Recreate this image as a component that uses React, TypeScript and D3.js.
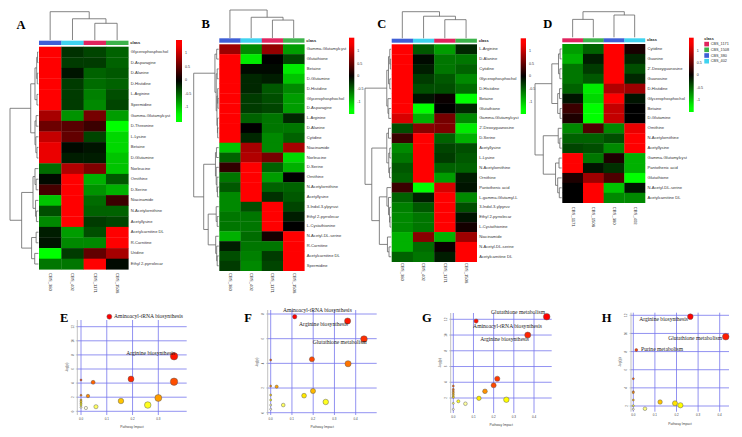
import React from 'react';
import * as d3 from 'd3';

type Tree = number | [number, Tree, Tree];

// ---------------- DATA ----------------
const classNames = ['CBS_1171', 'CBS_1508', 'CBS_380', 'CBS_402'];
const columnsABC = ['CBS_380', 'CBS_402', 'CBS_1171', 'CBS_1508'];
const columnsD = ['CBS_1171', 'CBS_1508', 'CBS_380', 'CBS_402'];
const legendTicks = [1, 0.5, 0, -0.5, -1];

const rowsA = ['Glycerophosphochol', 'D-Asparagine', 'D-Alanine', 'D-Histidine', 'L-Arginine', 'Spermidine',
  'Gamma-Glutamylcyst', 'D-Threonine', 'L-Lysine', 'Betaine', 'D-Glutamine', 'Norleucine', 'Ornithine', 'D-Serine',
  'Niacinamide', 'N-Acetylornithine', 'Acetyllysine', 'Acetylcarnitine DL', 'R-Carnitine', 'Uridine', 'Ethyl 2-pyrrolecar'];
const valuesA = [
  [1.5, -0.25, -0.35, -0.5], [1.5, -0.3, -0.3, -0.5], [1.5, -0.1, -0.5, -0.45], [1.5, -0.3, -0.55, -0.5],
  [1.5, -0.3, -0.65, -0.4], [1.5, -0.3, -0.7, -0.35], [0.85, -0.75, 0.6, -0.8], [0.55, 0.45, 0.3, -1.5],
  [1.0, 0.5, -0.35, -1.1], [1.2, -0.05, -0.1, -1.1], [1.2, -0.15, -0.15, -1.0], [-0.55, 0.9, 0.65, -1.0],
  [-0.05, 1.5, -0.9, -0.45], [0.35, 1.3, -0.75, -0.9], [-1.0, 1.35, -0.55, 0.3], [-0.4, 1.5, -0.5, -0.5],
  [-0.7, 1.5, -0.3, -0.35], [-0.15, -0.8, -0.4, 1.5], [-0.1, -0.7, -0.7, 1.5], [-1.3, -0.3, 0.5, 0.85],
  [-0.6, -0.6, 1.5, -0.05]];
const rowTreeA: Tree = [10,
  [2.7, [1.2, [0.6, [0.3, 0, 1], [0.4, 2, 3]], [0.5, 4, 5]], [1.2, [0.8, 6, 7], [0.9, 8, [0.5, 9, 10]]]],
  [5.9, [1.9, [1.2, 11, [0.8, 12, 13]], [1.0, 14, [0.7, 15, 16]]], [2.4, [0.8, 17, 18], [1.3, 19, 20]]]];
const colTreeA: Tree = [10, 0, [7.5, 1, [5.9, 2, 3]]];

const rowsB = ['Gamma-Glutamylcyst', 'Glutathione', 'Betaine', 'D-Glutamine', 'D-Histidine', 'Glycerophosphochol',
  'D-Asparagine', 'L-Arginine', 'D-Alanine', 'Cytidine', 'Niacinamide', 'Norleucine', 'D-Serine', 'Ornithine',
  'N-Acetylornithine', 'Acetyllysine', '3-Indol-3-ylpyruvi', 'Ethyl 2-pyrrolecar', 'L-Cystathionine',
  'N-Acetyl-DL-serine', 'R-Carnitine', 'Acetylcarnitine DL', 'Spermidine'];
const valuesB = [
  [0.8, -0.7, 0.75, -0.8], [1.5, -1.2, 0.0, -0.35], [1.4, -0.05, -0.05, -1.2], [1.4, -0.2, -0.15, -1.0],
  [1.5, -0.2, -0.45, -0.7], [1.5, -0.3, -0.4, -0.8], [1.5, -0.3, -0.35, -0.8], [1.5, -0.5, -0.6, -0.2],
  [1.5, 0.0, -0.6, -0.6], [1.5, -0.2, -0.7, -0.5], [-1.0, 0.85, -0.7, 0.85], [-0.5, 0.9, 0.6, -1.1],
  [0.25, 1.3, -0.5, -0.9], [-0.6, 1.4, -0.8, 0.0], [-0.45, 1.5, -0.5, -0.5], [-0.7, 1.5, -0.25, -0.45],
  [-0.7, -0.4, 1.5, -0.35], [-0.6, -0.6, 1.5, -0.15], [-0.6, -0.6, 1.5, 0.0], [-0.9, -0.55, 0.1, 1.3],
  [-0.15, -0.6, -0.6, 1.5], [-0.4, -0.65, -0.3, 1.5], [-0.3, -0.7, -0.35, 1.5]];
const rowTreeB: Tree = [10,
  [1.5, [0.8, 0, 1], [1.0, [0.6, 2, 3], [0.7, [0.4, 4, [0.3, 5, 6]], [0.5, 7, [0.4, 8, 9]]]]],
  [6, [1.3, [0.9, 10, 11], [1.0, 12, [0.7, 13, [0.5, 14, 15]]]],
    [4.2, [1.0, 16, [0.6, 17, 18]], [1.2, 19, [0.8, 20, [0.6, 21, 22]]]]]];
const colTreeB: Tree = [10, 0, [7.4, 1, [6.4, 2, 3]]];

const rowsC = ['L-Arginine', 'D-Alanine', 'Cytidine', 'Glycerophosphochol', 'D-Histidine', 'Betaine', 'Glutathione',
  'Gamma-Glutamylcyst', "2'-Deoxyguanosine", 'D-Serine', 'Acetyllysine', 'L-Lysine', 'N-Acetylornithine', 'Ornithine',
  'Pantothenic acid', 'L-gamma-Glutamyl-L', '3-Indol-3-ylpyruv', 'Ethyl 2-pyrrolecar', 'L-Cystathionine', 'Niacinamide',
  'N-Acetyl-DL-serine', 'Acetylcarnitine DL'];
const valuesC = [
  [1.5, -0.45, -0.8, -0.2], [1.5, -0.05, -0.6, -0.6], [1.5, -0.15, -0.6, -0.5], [1.5, -0.3, -0.45, -0.7],
  [1.5, -0.4, -0.4, -0.55], [1.3, -0.1, 0.05, -1.3], [1.4, -1.3, 0.0, -0.2], [1.1, -0.9, 0.6, -0.7],
  [-0.4, 0.7, 0.65, -1.2], [0.3, 1.3, -0.5, -0.9], [-0.7, 1.5, -0.35, -0.4], [-0.6, 1.5, -0.3, -0.45],
  [-0.45, 1.5, -0.5, -0.5], [-0.5, 1.5, -0.8, -0.15], [0.3, -1.4, 1.1, -0.1], [-0.5, -0.15, 1.5, -0.7],
  [-0.65, -0.45, 1.5, -0.4], [-0.7, -0.6, 1.5, -0.1], [-0.7, -0.6, 1.4, 0.1], [-0.9, 0.7, -0.9, 0.8],
  [-0.9, -0.55, 0.05, 1.4], [-0.5, -0.6, -0.15, 1.5]];
const rowTreeC: Tree = [10,
  [1.65, [1.0, [0.5, 0, [0.3, 1, 2]], [0.5, 3, 4]], [1.2, 5, [0.9, 6, 7]]],
  [7.4, [1.65, [1.0, 8, 9], [0.9, [0.5, 10, 11], [0.6, 12, 13]]],
    [4.5, [1.6, 14, [1.0, 15, [0.6, 16, [0.4, 17, 18]]]], [1.4, 19, [0.8, 20, 21]]]]];
const colTreeC: Tree = [10, 0, [8.3, 1, [7.0, 2, 3]]];

const rowsD = ['Cytidine', 'Guanine', "2'-Deoxyguanosine", 'Guanosine', 'D-Histidine', 'Glycerophosphochol', 'Betaine',
  'D-Glutamine', 'Ornithine', 'N-Acetylornithine', 'Acetyllysine', 'Gamma-Glutamylcyst', 'Pantothenic acid',
  'Glutathione', 'N-Acetyl-DL-serine', 'Acetylcarnitine DL'];
const valuesD = [
  [-0.8, -0.5, 1.5, 0.12], [-0.9, -0.15, 1.5, -0.2], [-0.6, -0.3, 1.5, -0.4], [-0.6, -0.45, 1.5, -0.2],
  [-0.5, -1.2, 0.9, 0.8], [-0.1, -1.1, 1.3, -0.1], [0.3, -1.5, 1.0, 0.0], [0.15, -1.5, 1.0, 0.0],
  [-0.7, 0.4, -0.7, 1.2], [-0.5, -0.5, -0.4, 1.5], [-0.35, -0.4, -0.7, 1.5], [1.5, -0.6, 0.15, -0.9],
  [1.5, -0.1, -0.25, -0.9], [0.15, 0.8, 0.4, -1.4], [0.0, 1.3, -1.0, -0.1], [0.0, 1.5, -0.7, -0.7]];
const rowTreeD: Tree = [10,
  [3.7, [1.2, [0.6, 0, 1], [0.7, 2, 3]], [1.5, [0.8, 4, 5], [0.6, 6, 7]]],
  [6.9, [1.3, 8, [0.7, 9, 10]], [2.3, [1.0, 11, 12], [1.5, 13, [0.9, 14, 15]]]]];
const colTreeD: Tree = [10, [7.0, 0, 1], [8.7, 2, 3]];

// bubble charts: pathway impact (x) and -log(p) (y)
const namesE = ['Aminoacyl-tRNA biosynthesis', 'Arginine biosynthesis', '', '', '', '', '', '', '', '', '', '', '', '', '', '', '', ''];
const impactE = [0.110, 0.361, 0.361, 0.194, 0, 0.047, 0, 0.027, 0.300, 0.155, 0, 0, 0, 0, 0.259, 0.058, 0.019, 0];
const logpE = [13.42, 7.80, 4.20, 4.58, 4.44, 4.11, 2.27, 2.17, 1.89, 1.46, 1.60, 1.36, 1.13, 0.89, 0.89, 0.65, 0.47, 0.57];
const yTicksE = [0, 2, 4, 6, 8, 10, 12];
const xTicksE = [0, 0.1, 0.2, 0.3];

const namesF = ['Aminoacyl-tRNA biosynthesis', 'Arginine biosynthesis', 'Glutathione metabolism', '', '', '', '', '', '', '', '', '', '', '', '', ''];
const impactF = [0.113, 0.362, 0.439, 0.194, 0.364, 0, 0, 0.028, 0.199, 0.157, 0, 0, 0.259, 0.059, 0, 0];
const logpF = [7.78, 7.43, 5.97, 4.33, 3.97, 4.27, 2.16, 2.11, 1.76, 1.38, 1.43, 1.03, 0.87, 0.62, 0.62, 0.28];
const yTicksF = [0, 2, 4, 6, 8];
const xTicksF = [0, 0.1, 0.2, 0.3, 0.4];

const namesG = ['Glutathione metabolism', 'Aminoacyl-tRNA biosynthesis', 'Arginine biosynthesis', '', '', '', '', '', '', '', '', '', '', '', '', '', '', '', ''];
const impactG = [0.463, 0.113, 0.369, 0.218, 0.2, 0.157, 0, 0, 0, 0, 0, 0, 0, 0.127, 0.263, 0.025, 0.06, 0, 0];
const logpG = [12.33, 11.78, 10.0, 4.45, 3.61, 2.85, 3.52, 3.1, 2.88, 2.67, 2.47, 2.25, 2.08, 1.96, 1.78, 1.58, 1.27, 1.32, 0.56];
const yTicksG = [2, 4, 6, 8, 10, 12];
const xTicksG = [0, 0.1, 0.2, 0.3, 0.4];

const namesH = ['Arginine biosynthesis', 'Glutathione metabolism', 'Purine metabolism', '', '', '', '', '', '', '', '', '', ''];
const impactH = [0.264, 0.428, 0.014, 0, 0, 0, 0, 0, 0, 0.124, 0.193, 0.218, 0.054];
const logpH = [11.85, 9.64, 8.17, 5.01, 3.58, 3.47, 2.66, 2.03, 1.64, 2.44, 2.3, 2.08, 1.7];
const yTicksH = [2, 4, 6, 8, 10, 12];
const xTicksH = [0, 0.1, 0.2, 0.3, 0.4];

// ---------------- STYLE / LAYOUT ----------------
const classColorMap: Record<string, string> = {
  CBS_1171: '#e0245e', CBS_1508: '#3cb34a', CBS_380: '#3f5fd6', CBS_402: '#3fd3f0',
};
const SANS = "'Liberation Sans', Arial, sans-serif";
const SERIF = "'Liberation Serif', 'Times New Roman', serif";
const heatColor = d3.scaleLinear<string>().domain([-1.3, 0, 1.3]).range(['#00ff00', '#000000', '#ff0000']).clamp(true);

function dendroPaths(tree: Tree, leafPos: (i: number) => number, hScale: (h: number) => number, rowsMode: boolean): string[] {
  const paths: string[] = [];
  const rec = (t: Tree): { p: number; h: number } => {
    if (typeof t === 'number') return { p: leafPos(t), h: 0 };
    const [h, a, b] = t;
    const A = rec(a), B = rec(b);
    const hx = hScale(h), ha = hScale(A.h), hb = hScale(B.h);
    if (rowsMode) paths.push(`M${ha},${A.p}H${hx}V${B.p}H${hb}`);
    else paths.push(`M${A.p},${ha}V${hx}H${B.p}V${hb}`);
    return { p: (A.p + B.p) / 2, h };
  };
  rec(tree);
  return paths;
}

function heatColors(n: number): string[] {
  const j = Math.floor(n / 4), i = n - j;
  const out: string[] = [];
  for (let k = 0; k < i; k++) {
    const h = i > 1 ? (k / (i - 1)) * 60 : 0;
    out.push(d3.rgb(255, Math.round((255 * h) / 60), 0).formatHex());
  }
  const s0 = 1 - 1 / (2 * j), s1 = 1 / (2 * j);
  for (let k = 0; k < j; k++) {
    const s = j > 1 ? s0 + (k * (s1 - s0)) / (j - 1) : s0;
    out.push(d3.rgb(255, 255, Math.round(255 * (1 - s))).formatHex());
  }
  return out;
}

interface HeatCfg {
  letter: string; letterX: number; letterY: number;
  columns: string[]; rows: string[]; values: number[][]; rowTree: Tree; colTree: Tree;
  heatX: number; heatY: number; heatW: number; heatH: number; classY: number; classH: number;
  rowRootX: number; colLeafY: number; colRootY: number; colLabelY: number;
  legX: number; legW: number; legTop: number; legBottom: number; legY1: number; legYm1: number;
  classLegend?: { x: number; y: number };
}

const heatCfgs: HeatCfg[] = [
  { letter: 'A', letterX: 16.5, letterY: 28.7, columns: columnsABC, rows: rowsA, values: valuesA, rowTree: rowTreeA, colTree: colTreeA,
    heatX: 39, heatY: 46.7, heatW: 89.3, heatH: 222.6, classY: 40.7, classH: 4.3, rowRootX: 10, colLeafY: 40, colRootY: 11.7, colLabelY: 273,
    legX: 176, legW: 6, legTop: 40, legBottom: 122, legY1: 53.3, legYm1: 107.3 },
  { letter: 'B', letterX: 201.5, letterY: 28.3, columns: columnsABC, rows: rowsB, values: valuesB, rowTree: rowTreeB, colTree: colTreeB,
    heatX: 219.3, heatY: 44.3, heatW: 85, heatH: 226.4, classY: 38.3, classH: 4.4, rowRootX: 193.7, colLeafY: 38, colRootY: 10, colLabelY: 273,
    legX: 349, legW: 5.3, legTop: 37.7, legBottom: 114, legY1: 51, legYm1: 101.7 },
  { letter: 'C', letterX: 377.3, letterY: 28.3, columns: columnsABC, rows: rowsC, values: valuesC, rowTree: rowTreeC, colTree: colTreeC,
    heatX: 391.7, heatY: 44.3, heatW: 85, heatH: 217.4, classY: 38.7, classH: 4, rowRootX: 365, colLeafY: 38.3, colRootY: 11.7, colLabelY: 263,
    legX: 520.7, legW: 5.3, legTop: 38.3, legBottom: 114, legY1: 51, legYm1: 101.7 },
  { letter: 'D', letterX: 543.3, letterY: 28.3, columns: columnsD, rows: rowsD, values: valuesD, rowTree: rowTreeD, colTree: colTreeD,
    heatX: 562.3, heatY: 44, heatW: 82.7, heatH: 158.7, classY: 38.3, classH: 4, rowRootX: 535, colLeafY: 37.3, colRootY: 11.7, colLabelY: 206.7,
    legX: 689, legW: 4.7, legTop: 37.7, legBottom: 112, legY1: 50.7, legYm1: 100, classLegend: { x: 704.3, y: 39 } },
];

function Heatmap({ cfg }: { cfg: HeatCfg }) {
  const x = d3.scaleBand().domain(cfg.columns).range([cfg.heatX, cfg.heatX + cfg.heatW]);
  const y = d3.scaleBand().domain(cfg.rows).range([cfg.heatY, cfg.heatY + cfg.heatH]);
  const rootR = (cfg.rowTree as [number, Tree, Tree])[0];
  const rootC = (cfg.colTree as [number, Tree, Tree])[0];
  const rowH = d3.scaleLinear().domain([0, rootR]).range([cfg.heatX - 0.6, cfg.rowRootX]);
  const colH = d3.scaleLinear().domain([0, rootC]).range([cfg.colLeafY, cfg.colRootY]);
  const rowPaths = dendroPaths(cfg.rowTree, (i) => (y(cfg.rows[i]) as number) + y.bandwidth() / 2, rowH, true);
  const colPaths = dendroPaths(cfg.colTree, (i) => (x(cfg.columns[i]) as number) + x.bandwidth() / 2, colH, false);
  const lScale = d3.scaleLinear().domain([-1, 1]).range([cfg.legYm1, cfg.legY1]);
  const gid = 'grad' + cfg.letter;
  const stops = d3.range(0, 1.0001, 0.05).map((t) => {
    const yy = cfg.legTop + t * (cfg.legBottom - cfg.legTop);
    return { offset: t, color: heatColor(lScale.invert(yy)) };
  });
  const right = cfg.heatX + cfg.heatW;
  return (
    <g>
      <defs>
        <linearGradient id={gid} x1="0" y1="0" x2="0" y2="1">
          {stops.map((s, i) => <stop key={i} offset={s.offset} stopColor={s.color} />)}
        </linearGradient>
      </defs>
      <text x={cfg.letterX} y={cfg.letterY} fontFamily={SERIF} fontWeight="bold" fontSize={12.5} fill="#000">{cfg.letter}</text>
      {cfg.columns.map((c) => (
        <rect key={'cl' + c} x={x(c)} y={cfg.classY} width={x.bandwidth() + 0.2} height={cfg.classH} fill={classColorMap[c]} />
      ))}
      <text x={right + 2} y={cfg.classY + cfg.classH / 2} dominantBaseline="middle" fontFamily={SANS} fontSize={4} fontWeight="bold" fill="#222">class</text>
      {cfg.rows.map((r, ri) => cfg.columns.map((c, ci) => (
        <rect key={r + c} x={x(c)} y={y(r)} width={x.bandwidth() + 0.3} height={y.bandwidth() + 0.3} fill={heatColor(cfg.values[ri][ci])} />
      )))}
      {cfg.rows.map((r) => (
        <text key={'rl' + r} x={right + 2.5} y={(y(r) as number) + y.bandwidth() / 2} dominantBaseline="middle" fontFamily={SANS} fontSize={4.1} fill="#333">{r}</text>
      ))}
      {cfg.columns.map((c) => {
        const cx = (x(c) as number) + x.bandwidth() / 2;
        return (
          <text key={'cx' + c} x={cx} y={cfg.colLabelY} transform={`rotate(90 ${cx} ${cfg.colLabelY})`} dominantBaseline="middle" fontFamily={SANS} fontSize={4.2} fill="#333">{c}</text>
        );
      })}
      {rowPaths.concat(colPaths).map((p, i) => <path key={'d' + i} d={p} fill="none" stroke="#666" strokeWidth={0.8} />)}
      <rect x={cfg.legX} y={cfg.legTop} width={cfg.legW} height={cfg.legBottom - cfg.legTop} fill={`url(#${gid})`} />
      {legendTicks.map((t) => (
        <text key={'lt' + t} x={cfg.legX + cfg.legW + 3} y={lScale(t)} dominantBaseline="middle" fontFamily={SANS} fontSize={3.6} fill="#333">{t}</text>
      ))}
      {cfg.classLegend && (
        <g>
          <text x={cfg.classLegend.x} y={cfg.classLegend.y} dominantBaseline="middle" fontFamily={SANS} fontSize={3.8} fontWeight="bold" fill="#222">class</text>
          {classNames.map((c, i) => (
            <g key={'lg' + c}>
              <rect x={cfg.classLegend!.x} y={cfg.classLegend!.y + 2.8 + i * 5.7} width={4.7} height={4.6} fill={classColorMap[c]} />
              <text x={cfg.classLegend!.x + 6.4} y={cfg.classLegend!.y + 5.1 + i * 5.7} dominantBaseline="middle" fontFamily={SANS} fontSize={3.8} fill="#333">{c}</text>
            </g>
          ))}
        </g>
      )}
    </g>
  );
}

interface LabelPos { anchor: 'start' | 'end'; dx: number; dy: number }
interface BubbleCfg {
  letter: string; letterX: number; letterY: number;
  names: string[]; impact: number[]; logp: number[]; yTicks: number[]; xTicks: number[];
  x0: number; x04: number; yDom: [number, number]; yRange: [number, number];
  left: number; right: number; top: number; bottom: number; rmax: number;
  labels: Record<string, LabelPos>;
}

const bubbleCfgs: BubbleCfg[] = [
  { letter: 'E', letterX: 60, letterY: 322.3, names: namesE, impact: impactE, logp: logpE, yTicks: yTicksE, xTicks: xTicksE,
    x0: 81, x04: 184.1, yDom: [0, 12], yRange: [411.3, 326.7], left: 77.3, right: 186.7, top: 320, bottom: 415, rmax: 3.7,
    labels: { 'Aminoacyl-tRNA biosynthesis': { anchor: 'start', dx: 4.7, dy: 0 }, 'Arginine biosynthesis': { anchor: 'end', dx: 1, dy: -3 } } },
  { letter: 'F', letterX: 244.3, letterY: 321.7, names: namesF, impact: impactF, logp: logpF, yTicks: yTicksF, xTicks: xTicksF,
    x0: 270.7, x04: 355.7, yDom: [0, 8], yRange: [412.7, 314], left: 267.7, right: 376.7, top: 310, bottom: 415, rmax: 3.3,
    labels: { 'Aminoacyl-tRNA biosynthesis': { anchor: 'start', dx: -11.7, dy: -5.7 }, 'Arginine biosynthesis': { anchor: 'end', dx: 0.3, dy: 4 },
      'Glutathione metabolism': { anchor: 'end', dx: 2.7, dy: 3.7 } } },
  { letter: 'G', letterX: 422, letterY: 321.7, names: namesG, impact: impactG, logp: logpG, yTicks: yTicksG, xTicks: xTicksG,
    x0: 453.3, x04: 534, yDom: [2, 12], yRange: [398, 319.3], left: 450.7, right: 551.7, top: 313, bottom: 413, rmax: 3.3,
    labels: { 'Glutathione metabolism': { anchor: 'end', dx: -1.7, dy: -4 }, 'Aminoacyl-tRNA biosynthesis': { anchor: 'start', dx: -3, dy: 5.7 },
      'Arginine biosynthesis': { anchor: 'end', dx: 1.3, dy: 4.3 } } },
  { letter: 'H', letterX: 601.7, letterY: 322.3, names: namesH, impact: impactH, logp: logpH, yTicks: yTicksH, xTicks: xTicksH,
    x0: 633.3, x04: 719.7, yDom: [2, 12], yRange: [406, 315.3], left: 631, right: 729, top: 312.7, bottom: 411.7, rmax: 3.3,
    labels: { 'Arginine biosynthesis': { anchor: 'end', dx: -2.3, dy: 3.3 }, 'Glutathione metabolism': { anchor: 'end', dx: -3.7, dy: 1.6 },
      'Purine metabolism': { anchor: 'start', dx: 4.7, dy: -0.7 } } },
];

function Bubble({ cfg }: { cfg: BubbleCfg }) {
  const x = d3.scaleLinear().domain([0, 0.4]).range([cfg.x0, cfg.x04]);
  const y = d3.scaleLinear().domain(cfg.yDom).range(cfg.yRange);
  const r = d3.scaleSqrt().domain([0, d3.max(cfg.impact) as number]).range([1, cfg.rmax]);
  const order = d3.range(cfg.logp.length).sort((a, b) => cfg.logp[b] - cfg.logp[a]);
  const cols = heatColors(cfg.logp.length);
  const colorOf = new Map<number, string>(order.map((idx, rank) => [idx, cols[rank]]));
  const midY = (cfg.top + cfg.bottom) / 2;
  const grid = '#7676ee';
  return (
    <g>
      <text x={cfg.letterX} y={cfg.letterY} fontFamily={SERIF} fontWeight="bold" fontSize={12.5} fill="#000">{cfg.letter}</text>
      {cfg.xTicks.map((t) => (
        <line key={'vx' + t} x1={x(t)} x2={x(t)} y1={cfg.top} y2={cfg.bottom} stroke={grid} strokeWidth={0.8} />
      ))}
      {cfg.yTicks.map((t) => (
        <line key={'hy' + t} x1={cfg.left} x2={cfg.right} y1={y(t)} y2={y(t)} stroke={grid} strokeWidth={0.8} />
      ))}
      <line x1={cfg.left} x2={cfg.left} y1={cfg.top} y2={cfg.bottom} stroke="#999" strokeWidth={0.6} />
      {cfg.yTicks.map((t) => (
        <g key={'yt' + t}>
          <line x1={cfg.left - 1.5} x2={cfg.left} y1={y(t)} y2={y(t)} stroke="#999" strokeWidth={0.5} />
          <text x={cfg.left - 3.5} y={y(t)} transform={`rotate(-90 ${cfg.left - 3.5} ${y(t)})`} textAnchor="middle" fontFamily={SANS} fontSize={3} fill="#444">{t}</text>
        </g>
      ))}
      {cfg.xTicks.map((t) => (
        <text key={'xt' + t} x={x(t)} y={cfg.bottom + 3.8} textAnchor="middle" dominantBaseline="middle" fontFamily={SANS} fontSize={3} fill="#444">{t.toFixed(1)}</text>
      ))}
      <text x={(cfg.left + cfg.right) / 2} y={cfg.bottom + 12} textAnchor="middle" dominantBaseline="middle" fontFamily={SANS} fontSize={3.3} fill="#444">Pathway Impact</text>
      <text x={cfg.left - 10.5} y={midY} transform={`rotate(-90 ${cfg.left - 10.5} ${midY})`} textAnchor="middle" dominantBaseline="middle" fontFamily={SANS} fontSize={3.3} fill="#444">-log(p)</text>
      {cfg.logp.map((v, i) => (
        <circle key={'c' + i} cx={x(cfg.impact[i])} cy={y(v)} r={r(cfg.impact[i])} fill={colorOf.get(i)} stroke="#555" strokeWidth={0.45} />
      ))}
      {cfg.names.map((n, i) => {
        if (!n) return null;
        const lp = cfg.labels[n];
        return (
          <text key={'lab' + i} x={x(cfg.impact[i]) + lp.dx} y={y(cfg.logp[i]) + lp.dy} textAnchor={lp.anchor} dominantBaseline="middle"
            fontFamily={SERIF} fontSize={5.6} fill="#222">{n}</text>
        );
      })}
    </g>
  );
}

export default function App() {
  return (
    <svg width={742} height={437} viewBox="0 0 742 437" style={{ position: 'absolute', left: 0, top: 0, background: '#fff' }}>
      <rect x={0} y={0} width={742} height={437} fill="#fff" />
      {heatCfgs.map((c) => <Heatmap key={c.letter} cfg={c} />)}
      {bubbleCfgs.map((c) => <Bubble key={c.letter} cfg={c} />)}
    </svg>
  );
}
